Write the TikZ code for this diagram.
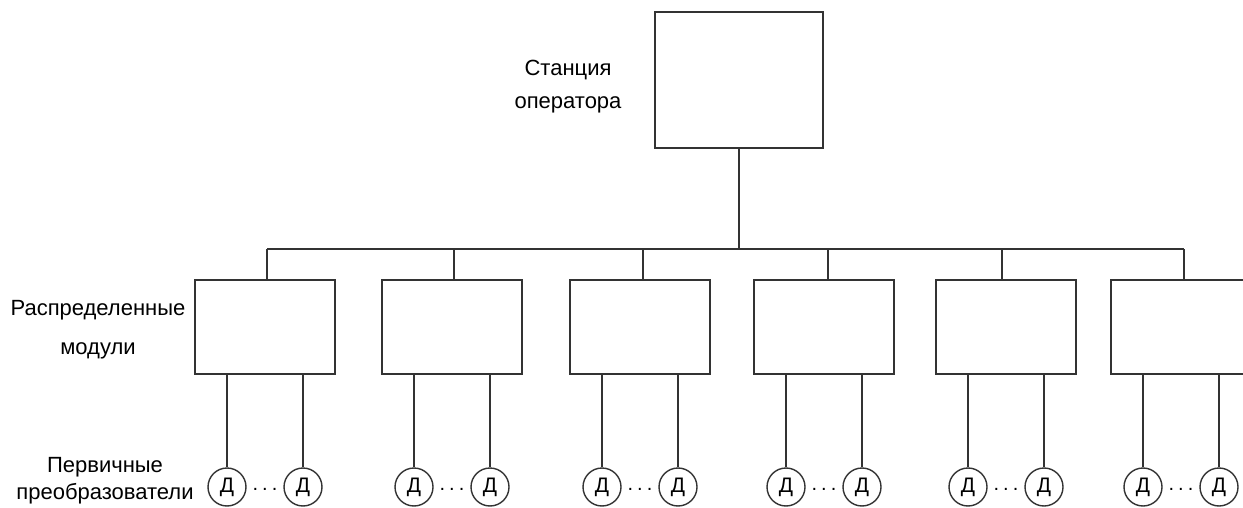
\documentclass[tikz,border=0pt]{standalone}
\usepackage{fontspec}
\setmainfont{Liberation Sans}
\begin{document}
\begin{tikzpicture}[x=1pt,y=-1pt,
  ln/.style={line width=1.4pt,draw=black!80},
  box/.style={ln,rectangle,minimum width=140pt,minimum height=94pt,inner sep=0pt},
  topbox/.style={ln,rectangle,minimum width=168pt,minimum height=136pt,inner sep=0pt},
  sens/.style={ln,circle,minimum size=38pt,inner sep=0pt,font=\fontsize{21}{21}\selectfont},
  lbl/.style={align=center,inner sep=0pt}]
\useasboundingbox (0,0) rectangle (1243,508);
% operator station
\node[topbox] (op) at (739,80) {};
\node[lbl,font=\fontsize{22}{33}\selectfont] (oplbl) at (568,87) {Станция\\оператора};
% bus
\coordinate (busL) at (267,249);
\coordinate (busR) at (1184,249);
\coordinate (busO) at (739,249);
\draw[ln] (busL) -- (busR);
\draw[ln] (op.south) -- (busO);
% modules
\foreach \i/\l/\c in {1/195/267,2/382/454,3/570/643,4/754/828,5/936/1002,6/1111/1184}{
  \node[box] (m\i) at (\l+70,327) {};
  \coordinate (b\i) at (\c,249);
  \coordinate (t\i) at (\c,280);
  \draw[ln] (b\i) -- (t\i);
  \node[sens] (sa\i) at (\l+32,487) {Д};
  \node[sens] (sb\i) at (\l+108,487) {Д};
  \coordinate (ma\i) at (\l+32,374);
  \coordinate (mb\i) at (\l+108,374);
  \draw[ln] (ma\i) -- (sa\i.north);
  \draw[ln] (mb\i) -- (sb\i.north);
  \node[font=\fontsize{20}{20}\selectfont,inner sep=0pt] (d\i) at (\l+70,489) {.\hspace{4pt}.\hspace{4pt}.};
}
\node[lbl,font=\fontsize{22}{39}\selectfont] (mlbl) at (98,330) {Распределенные\\модули};
\node[lbl,font=\fontsize{22}{27}\selectfont] (slbl) at (105,481) {Первичные\\преобразователи};
\end{tikzpicture}
\end{document}
